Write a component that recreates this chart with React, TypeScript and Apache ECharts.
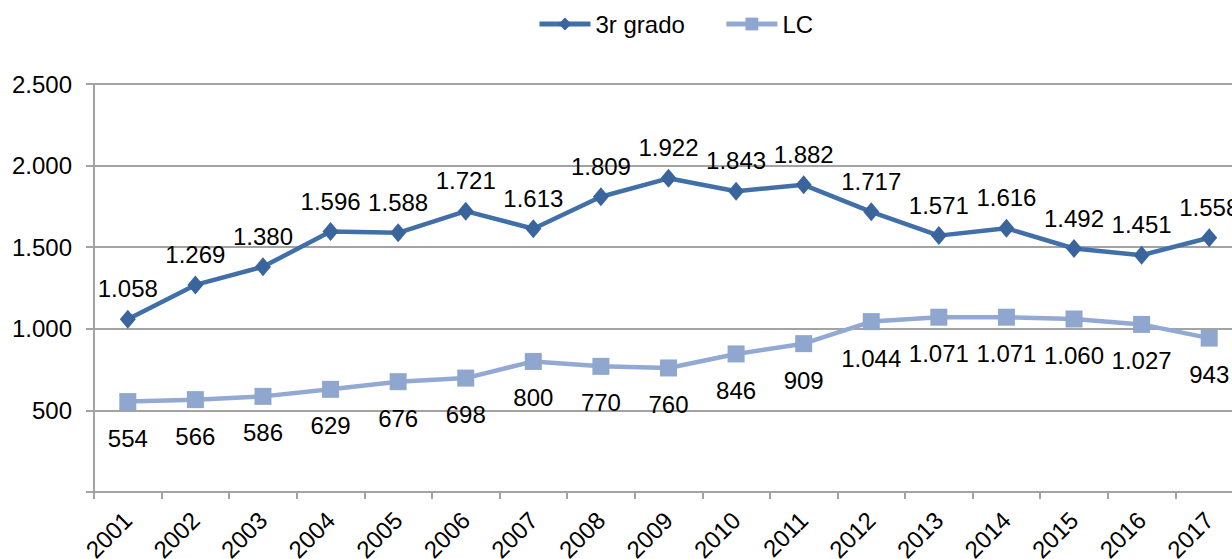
import React, { useEffect, useRef } from "react";
import * as echarts from "echarts";

const years = ["2001","2002","2003","2004","2005","2006","2007","2008","2009","2010","2011","2012","2013","2014","2015","2016","2017"];
const tercerGrado = [1058,1269,1380,1596,1588,1721,1613,1809,1922,1843,1882,1717,1571,1616,1492,1451,1558];
const lc = [554,566,586,629,676,698,800,770,760,846,909,1044,1071,1071,1060,1027,943];
const seriesNames = ["3r grado", "LC"];

const fmt = (v: number) => {
  const s = String(Math.round(v));
  return s.replace(/\B(?=(\d{3})+(?!\d))/g, ".");
};

const FONT = "'Liberation Sans', Arial, sans-serif";
const GRID_COLOR = "#a3a3a3";
const FS = 24;

export default function App() {
  const ref = useRef<HTMLDivElement>(null);
  useEffect(() => {
    if (!ref.current) return;
    const chart = echarts.init(ref.current, null, { renderer: "svg" });
    chart.setOption({
      animation: false,
      backgroundColor: "#ffffff",
      textStyle: { fontFamily: FONT },
      legend: {
        top: 12,
        left: 537,
        padding: 0,
        itemWidth: 51,
        itemHeight: 16,
        itemGap: 39,
        lineStyle: { width: 5 },
        textStyle: { fontSize: FS, color: "#000", fontFamily: FONT, padding: [0, 0, 0, 0] },
        data: seriesNames,
      },
      grid: {
        left: 94,
        top: 84,
        height: 408,
        width: 1149,
        containLabel: false,
        outerBoundsMode: "none",
      },
      xAxis: {
        type: "category",
        data: years,
        boundaryGap: true,
        axisLine: { show: true, lineStyle: { color: GRID_COLOR, width: 2 } },
        axisTick: { show: true, length: 7, alignWithLabel: false, lineStyle: { color: GRID_COLOR, width: 2 } },
        axisLabel: { rotate: 45, interval: 0, margin: 24, fontSize: FS, color: "#000", fontFamily: FONT },
        splitLine: { show: false },
      },
      yAxis: {
        type: "value",
        min: 0,
        max: 2500,
        interval: 500,
        axisLine: { show: true, lineStyle: { color: GRID_COLOR, width: 2 } },
        axisTick: { show: true, length: 8, lineStyle: { color: GRID_COLOR, width: 2 } },
        axisLabel: {
          margin: 22,
          fontSize: FS,
          color: "#000",
          fontFamily: FONT,
          formatter: (v: number) => (v === 0 ? "" : fmt(v)),
        },
        splitLine: { show: true, lineStyle: { color: GRID_COLOR, width: 2 } },
      },
      series: [
        {
          name: seriesNames[0],
          type: "line",
          data: tercerGrado,
          symbol: "diamond",
          symbolSize: [16, 19],
          lineStyle: { color: "#4170a8", width: 4.5 },
          itemStyle: { color: "#3a649c" },
          label: {
            show: true,
            position: "top",
            distance: 9,
            fontSize: FS,
            color: "#000",
            fontFamily: FONT,
            formatter: (p: any) => fmt(p.value),
          },
          z: 3,
        },
        {
          name: seriesNames[1],
          type: "line",
          data: lc,
          symbol: "rect",
          symbolSize: 17,
          lineStyle: { color: "#92aad3", width: 4.5 },
          itemStyle: { color: "#8fa6cf" },
          label: {
            show: true,
            position: "bottom",
            distance: 16,
            fontSize: FS,
            color: "#000",
            fontFamily: FONT,
            formatter: (p: any) => fmt(p.value),
          },
          z: 2,
        },
      ],
    });
    return () => chart.dispose();
  }, []);
  return (
    <div
      ref={ref}
      style={{ position: "fixed", left: 0, top: 0, width: 1232, height: 559, background: "#fff" }}
    />
  );
}
